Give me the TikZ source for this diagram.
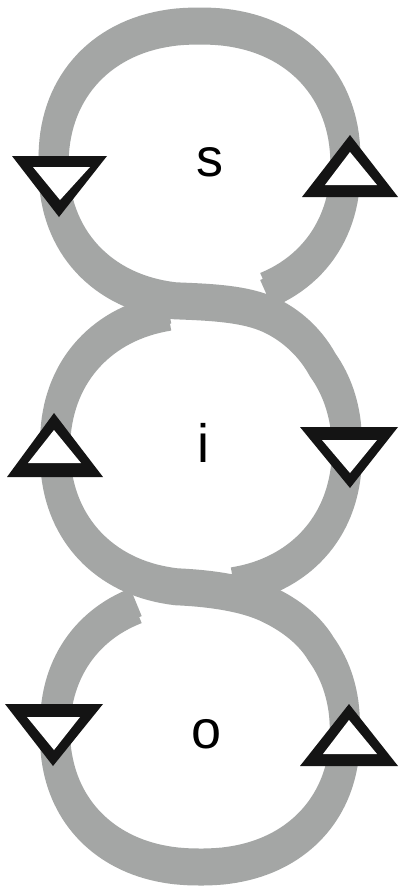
\documentclass[tikz,border=0pt]{standalone}
\usepackage{fontspec}
\setmainfont{Liberation Sans}
\definecolor{ringgray}{RGB}{164,166,165}
\definecolor{triblack}{RGB}{20,20,20}
\begin{document}
\begin{tikzpicture}[x=1pt,y=1pt,
  declare function={spc(\t)=sign(cos(\t))*(abs(cos(\t))+0.00001)^0.909;
                     sps(\t)=sign(sin(\t))*(abs(sin(\t))+0.00001)^0.909;},
  ring/.style={draw=ringgray,line width=30pt,line join=round},
  label/.style={font=\fontsize{54}{60}\selectfont,text=black,inner sep=0pt},
  triout/.style={fill=triblack},
  triin/.style={fill=white}]
\fill[white] (0,0) rectangle (399,-887);
\useasboundingbox (0,0) rectangle (399,-887);
\foreach \dy in {-3.5,3.5}{
% path 1: top ring, then S band, then right side of middle ring
\draw[ring,yshift=\dy pt] plot[domain=-65:262,samples=130,variable=\t] ({199.5+146*spc(\t)},{-164+138*sps(\t)})
  .. controls (205,-302) and (240,-303) .. (265,-313)
  .. controls (285,-321) and (308,-338) .. ({201+146*spc(35)},{-449+139*sps(35)})
  -- plot[domain=35:-79,samples=60,variable=\t] ({201+146*spc(\t)},{-449+139*sps(\t)});
% path 2: left side of middle ring, then S band, then bottom ring
\draw[ring,yshift=\dy pt] plot[domain=101:262,samples=70,variable=\t] ({201+146*spc(\t)},{-449+139*sps(\t)})
  .. controls (205,-588) and (240,-592) .. (265,-603)
  .. controls (285,-612) and (308,-627) .. ({200+145*spc(35)},{-731+136*sps(35)})
  -- plot[domain=35:-246,samples=130,variable=\t] ({200+145*spc(\t)},{-731+136*sps(\t)});
}
% triangles
\fill[triout] (12,-156) -- (107,-156) -- (59,-217) -- cycle;
\fill[triin]  (33,-167) -- (90,-167) -- (60,-200) -- cycle;
\fill[triout] (302,-197) -- (398,-197) -- (350,-135) -- cycle;
\fill[triin]  (325,-185) -- (377,-185) -- (350,-152) -- cycle;
\fill[triout] (7,-477) -- (103,-477) -- (54,-413) -- cycle;
\fill[triin]  (28,-463) -- (81,-463) -- (54,-430) -- cycle;
\fill[triout] (300,-427) -- (398,-427) -- (350,-488) -- cycle;
\fill[triin]  (322,-440) -- (377,-440) -- (350,-473) -- cycle;
\fill[triout] (5,-704) -- (103,-704) -- (53,-766) -- cycle;
\fill[triin]  (27,-717) -- (80,-717) -- (54,-750) -- cycle;
\fill[triout] (300,-766) -- (398,-766) -- (349,-704) -- cycle;
\fill[triin]  (323,-754) -- (377,-754) -- (349,-720) -- cycle;
% labels
\node[label] (s) at (210,-162) {s};
\node[label] (i) at (203,-443) {i};
\node[label] (o) at (207,-734) {o};
\end{tikzpicture}
\end{document}
